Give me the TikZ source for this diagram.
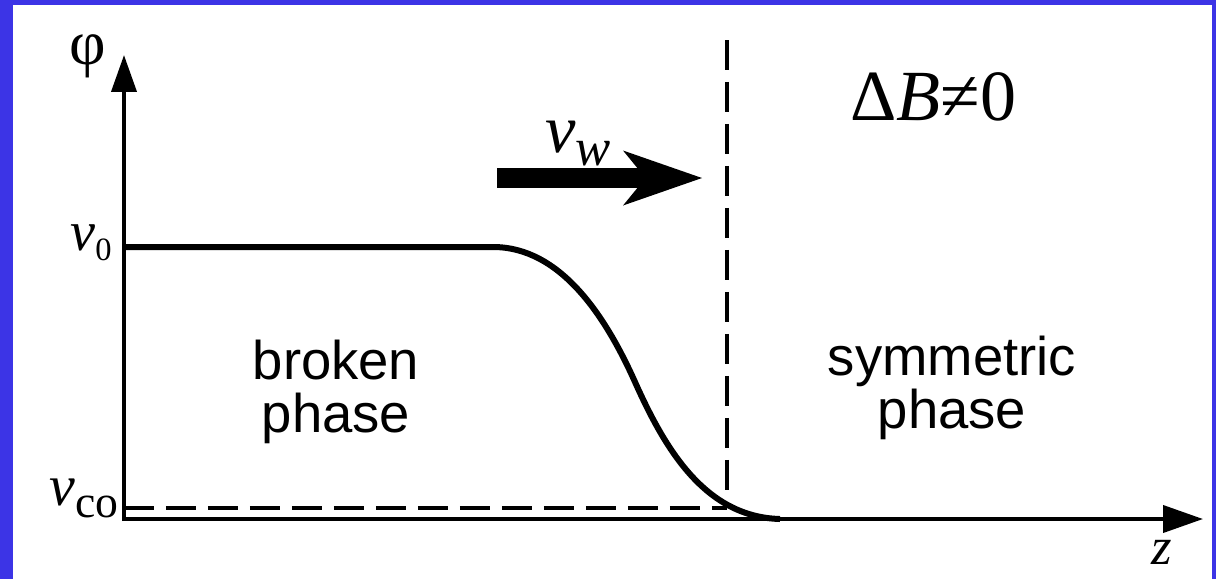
\documentclass[tikz,border=0pt]{standalone}
\usepackage{fontspec}
\setmainfont{Liberation Serif}
\setsansfont{Liberation Sans}
\usetikzlibrary{arrows.meta}
\definecolor{slideblue}{RGB}{60,52,230}
\newcommand{\lowidx}[3]{\raisebox{-#2}{\fontsize{#1}{#1}\selectfont #3}}

\begin{document}
\begin{tikzpicture}
[x=0.02cm,y=-0.02cm,
  axis/.style={line width=0.08cm},
  guide/.style={line width=0.09cm,dash pattern=on 0.6cm off 0.24cm},
  profile/.style={line width=0.12cm},
  phasetext/.style={font=\sffamily\fontsize{31}{30}\selectfont,align=center},
  mathlabel/.style={inner sep=0pt}]

\fill[slideblue] (0,0) rectangle (1216,579);
\fill[white] (13,5) rectangle (1212,579);
\useasboundingbox (0,0) rectangle (1216,579);

\coordinate (O) at (124,519);
\coordinate (ytop) at (124,55);
\coordinate (xend) at (1203,519);
\coordinate (vstart) at (124,247);
\coordinate (kink) at (493,247);
\coordinate (mid) at (635,382);
\coordinate (foot) at (780,519);
\coordinate (walltop) at (727,40);
\coordinate (wallfoot) at (727,508);
\coordinate (costart) at (124,508);
\coordinate (wstart) at (497,178);
\coordinate (wtip) at (702,178);

\draw[axis,-{Triangle[length=0.74cm,width=0.5cm]}] ([yshift=-0.04cm]O) -- (ytop);
\draw[axis,-{Triangle[length=0.8cm,width=0.54cm]}] (O) -- (xend);

\draw[guide] (costart) -- (wallfoot);
\draw[guide] (walltop) -- (wallfoot);

\draw[profile] (vstart) -- (kink) .. controls (560,247) and (605,315) .. (mid)
      .. controls (665,449) and (705,517) .. (foot);

\draw[line width=0.4cm,-{Stealth[length=1.58cm,width=1.1cm,inset=0.45cm,line width=0pt]}]
      (wstart) -- (wtip);

\node[mathlabel,font=\fontsize{36}{36}\selectfont] (phi) at (88,56) {φ};
\node[mathlabel,anchor=base east,font=\fontsize{32}{32}\selectfont] (vzero) at (112,250)
      {\textit{v}\lowidx{18.5}{5.7pt}{0}};
\node[mathlabel,anchor=base east,font=\fontsize{33}{33}\selectfont] (vco) at (119,505)
      {\textit{v}\lowidx{26}{7pt}{co}};
\node[mathlabel,anchor=base west,font=\fontsize{39}{39}\selectfont] (vw) at (545,152)
      {\textit{v}\lowidx{30}{7.4pt}{\textit{w}}};
\node[mathlabel,anchor=base west,font=\fontsize{41}{41}\selectfont] (dB) at (850,120)
      {Δ\textit{B}≠0};
\node[mathlabel,font=\fontsize{30}{30}\selectfont\itshape] (zlab) at (1162,552) {z};

\node[phasetext] (broken) at (336,392) {broken\\phase};
\node[phasetext] (symm) at (952,388) {symmetric\\phase};
\end{tikzpicture}
\end{document}
